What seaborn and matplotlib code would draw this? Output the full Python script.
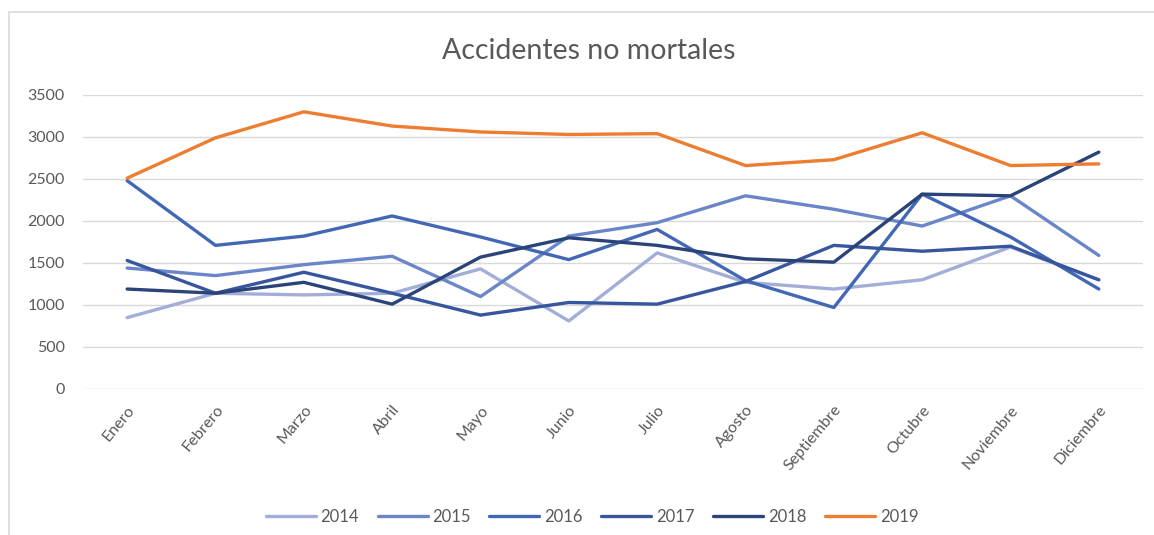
import matplotlib
matplotlib.use("Agg")
import matplotlib.pyplot as plt
import seaborn as sns
import pandas as pd
from matplotlib.patches import Rectangle

months = ["Enero", "Febrero", "Marzo", "Abril", "Mayo", "Junio", "Julio",
          "Agosto", "Septiembre", "Octubre", "Noviembre", "Diciembre"]
years = ["2014", "2015", "2016", "2017", "2018", "2019"]
v2014 = [850, 1140, 1120, 1140, 1430, 810, 1620, 1270, 1190, 1300, 1690, 1300]
v2015 = [1440, 1350, 1480, 1580, 1100, 1820, 1980, 2300, 2140, 1940, 2300, 1590]
v2016 = [2480, 1710, 1820, 2060, 1810, 1540, 1900, 1290, 970, 2320, 1810, 1190]
v2017 = [1530, 1140, 1390, 1140, 880, 1030, 1010, 1280, 1710, 1640, 1700, 1300]
v2018 = [1190, 1140, 1270, 1010, 1570, 1800, 1710, 1550, 1510, 2320, 2300, 2820]
v2019 = [2510, 2990, 3300, 3130, 3060, 3030, 3040, 2660, 2730, 3050, 2660, 2680]
y_ticks = [0, 500, 1000, 1500, 2000, 2500, 3000, 3500]
title = "Accidentes no mortales"

colors = ["#A3AED8", "#6A86C8", "#4167B5", "#37569E", "#2A4479", "#ED7D31"]

series = [v2014, v2015, v2016, v2017, v2018, v2019]
rows = []
for yr, vals in zip(years, series):
    for i, (m, v) in enumerate(zip(months, vals)):
        rows.append({"pos": i, "Mes": m, "Año": yr, "Valor": v})
df = pd.DataFrame(rows)

sns.set_theme(style="white")
plt.rcParams["font.family"] = ["Lato", "DejaVu Sans"]

fig = plt.figure(figsize=(11.54, 5.35), dpi=100)
ax = fig.add_axes([83 / 1154, 146 / 535, 1060 / 1154, 294 / 535])

sns.lineplot(data=df, x="pos", y="Valor", hue="Año", palette=colors,
             linewidth=2.4, sort=False, ax=ax, legend=True)

ax.set_xlim(-0.5, 11.5)
ax.set_ylim(0, 3500)
ax.set_yticks(y_ticks)
ax.set_yticklabels([str(t) for t in y_ticks])
ax.set_xticks(range(len(months)))
ax.set_xticklabels(months, rotation=50, ha="right", rotation_mode="anchor")
ax.tick_params(axis="both", length=0, labelsize=11.5, labelcolor="#595959")
ax.tick_params(axis="x", pad=10)
ax.tick_params(axis="y", pad=13)
ax.yaxis.grid(True, color="#D9D9D9", linewidth=1)
ax.xaxis.grid(False)
for s in ax.spines.values():
    s.set_visible(False)
ax.set_xlabel("")
ax.set_ylabel("")

handles, labels = ax.get_legend_handles_labels()
ax.legend_.remove()
fig.legend(handles, labels, loc="center", bbox_to_anchor=(592 / 1154, 1 - 517 / 535),
           ncol=6, frameon=False, fontsize=12, handlelength=3.0,
           columnspacing=1.1, handletextpad=0.3, labelcolor="#595959")

fig.text(589 / 1154, 1 - 51 / 535, title, ha="center", va="center",
         fontsize=20.5, color="#595959")

fig.patches.append(Rectangle((9 / 1154, -0.02), 1.1, 1 - 12 / 535 + 0.02,
                             transform=fig.transFigure, fill=False,
                             edgecolor="#D9D9D9", linewidth=1.2))

fig.savefig("out.png", dpi=100)
